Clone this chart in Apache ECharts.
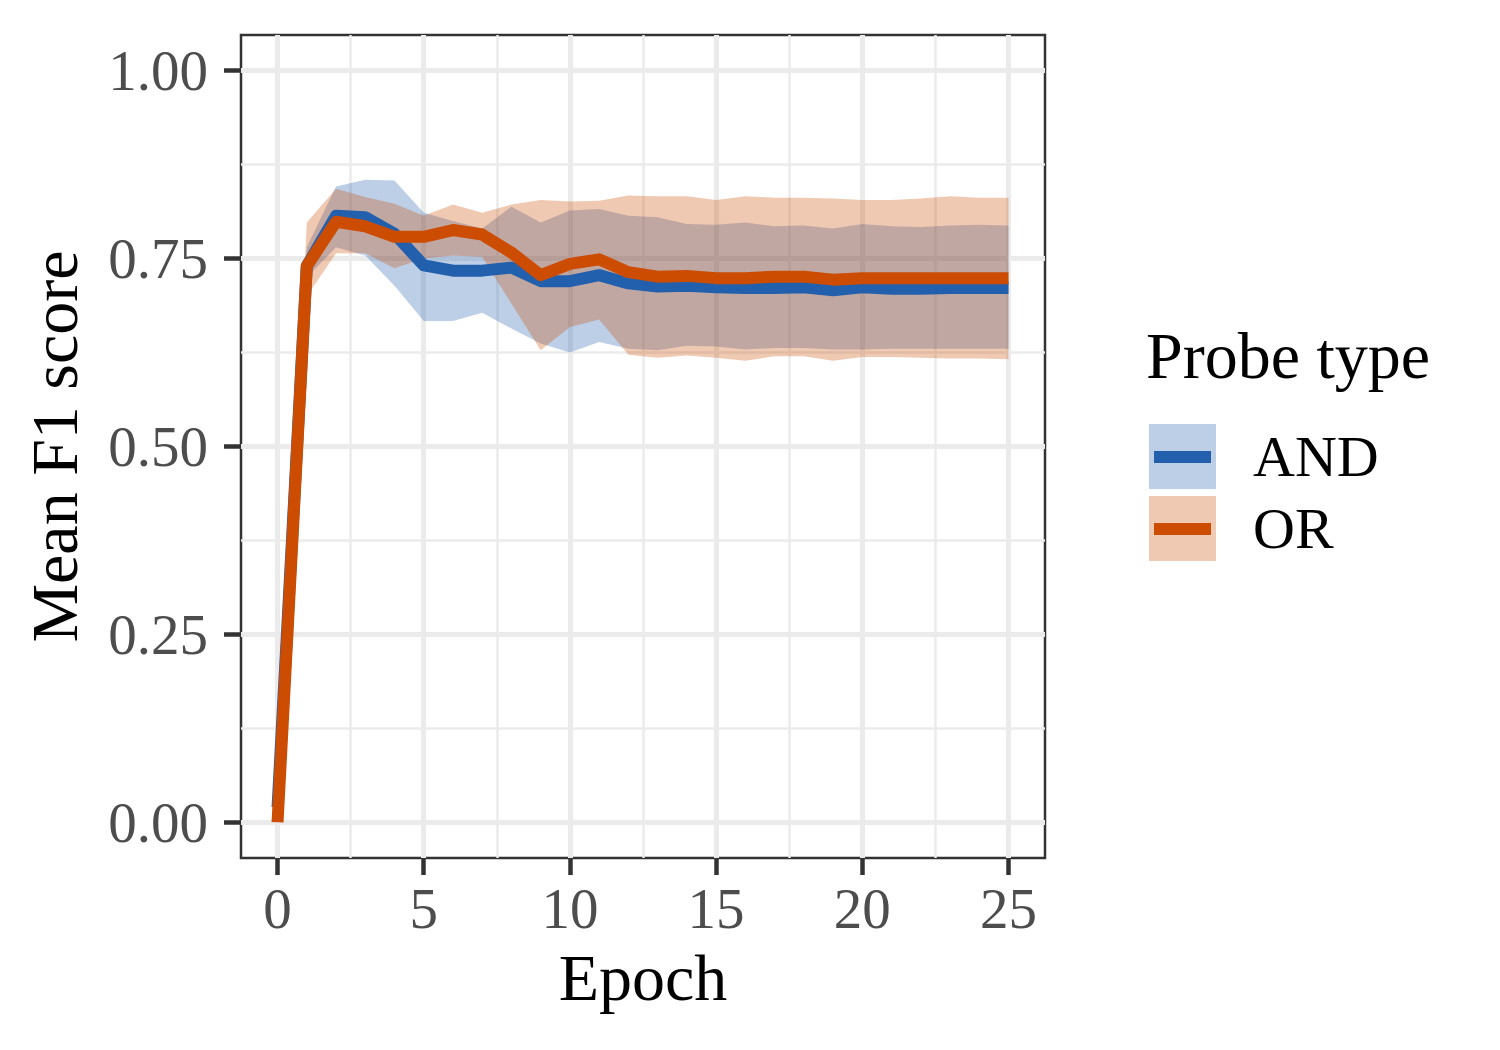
<!DOCTYPE html>
<html>
<head>
<meta charset="utf-8">
<script src="https://cdn.jsdelivr.net/npm/echarts@6.0.0/dist/echarts.min.js"></script>
<style>
  html, body { margin: 0; padding: 0; background: #ffffff; }
  #chart { width: 1500px; height: 1050px; }
</style>
</head>
<body>
<div id="chart"></div>
<script>
// values
var epochs = [0, 1, 2, 3, 4, 5, 6, 7, 8, 9, 10, 11, 12, 13, 14, 15, 16, 17, 18, 19, 20, 21, 22, 23, 24, 25];

var andMean  = [0.020, 0.740, 0.807, 0.805, 0.783, 0.741, 0.734, 0.734, 0.738, 0.720, 0.720, 0.728, 0.717,
                0.713, 0.714, 0.712, 0.711, 0.711, 0.712, 0.708, 0.712, 0.710, 0.710, 0.711, 0.711, 0.711];
var andLower = [0.015, 0.725, 0.765, 0.754, 0.714, 0.667, 0.667, 0.678, 0.657, 0.637, 0.625, 0.639, 0.630,
                0.628, 0.634, 0.633, 0.629, 0.631, 0.631, 0.629, 0.629, 0.630, 0.630, 0.630, 0.630, 0.630];
var andUpper = [0.025, 0.765, 0.846, 0.855, 0.854, 0.811, 0.800, 0.790, 0.819, 0.798, 0.814, 0.816, 0.807,
                0.805, 0.796, 0.795, 0.798, 0.793, 0.794, 0.790, 0.796, 0.793, 0.792, 0.794, 0.795, 0.794];

var orMean  = [0.000, 0.740, 0.799, 0.793, 0.779, 0.779, 0.788, 0.782, 0.758, 0.728, 0.743, 0.749, 0.732,
               0.726, 0.727, 0.724, 0.724, 0.726, 0.726, 0.722, 0.724, 0.724, 0.724, 0.724, 0.724, 0.724];
var orLower = [0.000, 0.700, 0.757, 0.757, 0.737, 0.750, 0.754, 0.752, 0.690, 0.628, 0.659, 0.669, 0.622,
               0.618, 0.621, 0.618, 0.614, 0.620, 0.620, 0.614, 0.619, 0.619, 0.618, 0.617, 0.617, 0.616];
var orUpper = [0.000, 0.798, 0.843, 0.832, 0.823, 0.807, 0.822, 0.811, 0.822, 0.828, 0.826, 0.827, 0.834,
               0.833, 0.833, 0.828, 0.833, 0.831, 0.831, 0.830, 0.828, 0.828, 0.830, 0.833, 0.831, 0.831];

var xMajor = [0, 5, 10, 15, 20, 25];
var xMinor = [2.5, 7.5, 12.5, 17.5, 22.5];
var yMajor = [0, 0.25, 0.5, 0.75, 1];
var yMinor = [0.125, 0.375, 0.625, 0.875];

var seriesNames = ['AND', 'OR'];

var lineColors = ['#2260ae', '#cc4c02'];
var bandColors = ['rgba(34,96,174,0.3)', 'rgba(204,76,2,0.3)'];
var keyColors = ['#bdcfe7', '#f0c9b3'];

var font = 'Liberation Serif';

function pairs(xs, ys) {
  return xs.map(function (x, i) { return [x, ys[i]]; });
}

// ribbon drawn as one polygon through the axis scales
function bandSeries(name, lo, hi, color) {
  return {
    name: name + ' band', type: 'custom', silent: true,
    data: [[epochs[0], lo[0]]],
    renderItem: function (params, api) {
      var pts = [];
      for (var i = 0; i < epochs.length; i++) pts.push(api.coord([epochs[i], hi[i]]));
      for (var j = epochs.length - 1; j >= 0; j--) pts.push(api.coord([epochs[j], lo[j]]));
      return { type: 'polygon', shape: { points: pts }, style: { fill: color } };
    }
  };
}

function meanSeries(name, values, color) {
  return {
    name: name, type: 'line', data: pairs(epochs, values),
    symbol: 'none', silent: true,
    lineStyle: { color: color, width: 12, cap: 'butt', join: 'round' },
    itemStyle: { color: color }
  };
}

var chart = echarts.init(document.getElementById('chart'), null, { renderer: 'svg' });

var gridLine = '#ebebeb';
var ink = '#333333';

var option = {
  animation: false,
  backgroundColor: '#ffffff',
  title: {
    text: 'Probe type',
    left: 1146, top: 322, padding: 0,
    textStyle: { fontFamily: font, fontSize: 66, fontWeight: 'normal', color: '#000000' }
  },
  legend: {
    orient: 'vertical',
    left: 1149, top: 424, padding: 0,
    itemWidth: 67, itemHeight: 65, itemGap: 7,
    icon: 'rect',
    selectedMode: false,
    data: seriesNames.map(function (n, i) {
      return { name: n, itemStyle: { color: keyColors[i], opacity: 1 } };
    }),
    textStyle: { fontFamily: font, fontSize: 58, color: '#000000', padding: [0, 0, 0, 32] }
  },
  grid: {
    left: 241, top: 35, width: 804, height: 823,
    show: true, borderColor: ink, borderWidth: 2.5, backgroundColor: 'transparent'
  },
  xAxis: [
    {
      type: 'value', min: -1.25, max: 26.25,
      name: 'Epoch', nameLocation: 'middle', nameGap: 86,
      nameTextStyle: { fontFamily: font, fontSize: 66, color: '#000000' },
      axisLine: { show: false, onZero: false },
      axisTick: { show: true, customValues: xMajor, length: 17, lineStyle: { color: ink, width: 4.5 } },
      axisLabel: { customValues: xMajor, margin: 22, fontFamily: font, fontSize: 57, color: '#4d4d4d' },
      splitLine: { show: true, lineStyle: { color: gridLine, width: 5 } }
    },
    {
      type: 'value', min: -1.25, max: 26.25, position: 'bottom',
      axisLine: { show: false, onZero: false },
      axisTick: { show: false, customValues: xMinor },
      axisLabel: { show: false, customValues: xMinor },
      splitLine: { show: true, lineStyle: { color: gridLine, width: 2.5 } }
    }
  ],
  yAxis: [
    {
      type: 'value', min: -0.0475, max: 1.0475,
      name: 'Mean F1 score', nameLocation: 'middle', nameGap: 154,
      nameTextStyle: { fontFamily: font, fontSize: 66, color: '#000000' },
      axisLine: { show: false, onZero: false },
      axisTick: { show: true, customValues: yMajor, length: 17, lineStyle: { color: ink, width: 4.5 } },
      axisLabel: {
        customValues: yMajor, margin: 33, fontFamily: font, fontSize: 57, color: '#4d4d4d',
        formatter: function (v) { return v.toFixed(2); }
      },
      splitLine: { show: true, lineStyle: { color: gridLine, width: 5 } }
    },
    {
      type: 'value', min: -0.0475, max: 1.0475, position: 'left',
      axisLine: { show: false, onZero: false },
      axisTick: { show: false, customValues: yMinor },
      axisLabel: { show: false, customValues: yMinor },
      splitLine: { show: true, lineStyle: { color: gridLine, width: 2.5 } }
    }
  ],
  graphic: [
    { type: 'rect', z: 100, shape: { x: 1154, y: 451, width: 57, height: 12 }, style: { fill: lineColors[0] } },
    { type: 'rect', z: 100, shape: { x: 1154, y: 523, width: 57, height: 12 }, style: { fill: lineColors[1] } }
  ],
  series: [
    bandSeries('AND', andLower, andUpper, bandColors[0]),
    bandSeries('OR', orLower, orUpper, bandColors[1]),
    meanSeries('AND', andMean, lineColors[0]),
    meanSeries('OR', orMean, lineColors[1])
  ]
};

option && chart.setOption(option);
</script>
</body>
</html>
